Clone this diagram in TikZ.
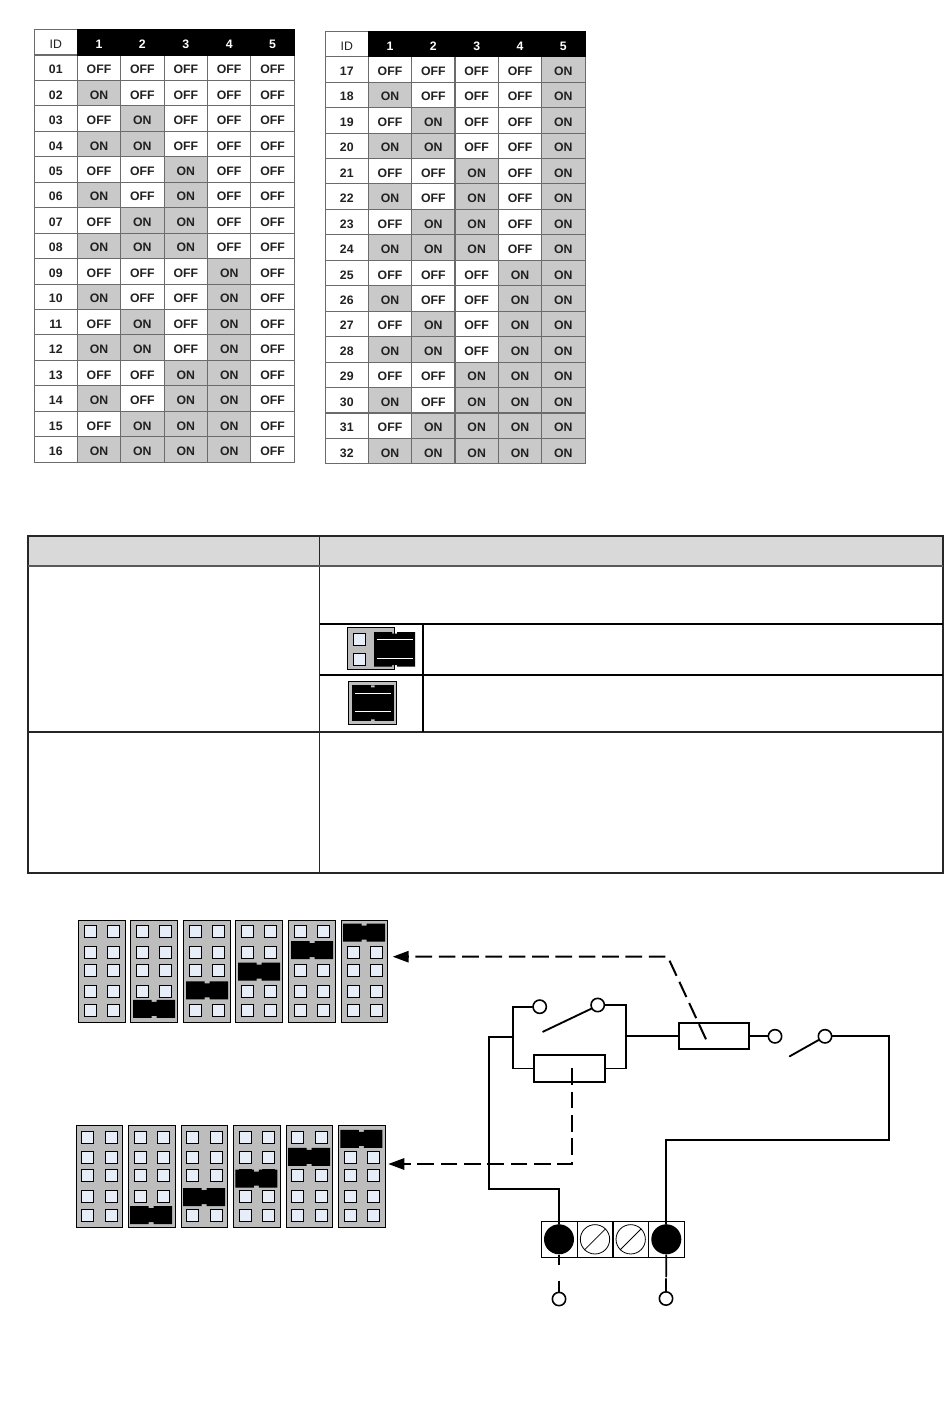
\documentclass[tikz,border=0pt]{standalone}
\usepackage{fontspec}
\setmainfont{Liberation Sans}
\usetikzlibrary{arrows.meta,calc}
\definecolor{gridc}{gray}{0.42}
\definecolor{onc}{gray}{0.79}
\definecolor{txt}{gray}{0.13}
\definecolor{blockc}{gray}{0.74}
\definecolor{padc}{HTML}{E8EEF7}
\definecolor{headc}{gray}{0.85}
\tikzset{
  cellbox/.style={draw=gridc,line width=0.8pt,inner sep=0pt,text height=9pt,text depth=0pt,minimum width=32.55pt,minimum height=19.09pt,font=\fontsize{9.2}{10}\selectfont\bfseries,text=txt},
  idbox/.style={cellbox,minimum width=32.2pt},
  headbox/.style={cellbox,fill=black,draw=black,text=white},
  block/.style={draw=black,line width=0.75pt,fill=blockc,inner sep=0pt},
  pad/.style={draw=black,line width=0.75pt,fill=padc,inner sep=0pt,minimum size=9pt},
  wire/.style={draw=black,line width=1.4pt,line cap=round,line join=miter},
  dashwire/.style={draw=black,line width=1.5pt,dash pattern=on 12.5pt off 5pt},
  tipped/.style={-{Triangle[length=12pt,width=8.5pt]}},
  res/.style={draw=black,line width=1.4pt,fill=none,inner sep=0pt},
  ring/.style={circle,draw=black,line width=1.2pt,fill=white,inner sep=0pt,minimum size=10pt},
  termcell/.style={draw=black,line width=0.5pt,inner sep=0pt,minimum height=27pt,minimum width=26.7pt},
  termon/.style={circle,fill=black,inner sep=0pt,minimum size=22.5pt},
  termoff/.style={circle,draw=black,line width=0.6pt,fill=white,inner sep=0pt,minimum size=22pt},
  frame/.style={draw=black!85,line width=1.3pt},
  heavy/.style={draw=black,line width=1.6pt},
}
\newcommand{\jumperat}[2]{%
  \fill[black] (#1-21,#2-9) -- (#1-2.5,#2-9) -- (#1-2.5,#2-7) -- (#1+2.5,#2-7) -- (#1+2.5,#2-9) -- (#1+21,#2-9)
    -- (#1+21,#2+9) -- (#1+2.5,#2+9) -- (#1+2.5,#2+7) -- (#1-2.5,#2+7) -- (#1-2.5,#2+9) -- (#1-21,#2+9) -- cycle;}
\newcommand{\idtable}[5]{% name, x0 (first column), y0 (first row top), first id, id-col width
  \foreach \r in {1,...,16}{
    \pgfmathtruncatemacro\id{#4+\r-1}
    \pgfmathsetmacro\yy{#3+25.45*(\r-0.5)}
    \node[idbox] (#1id\r) at (#2-21.5,\yy) {\ifnum\id<10 0\fi\id};
    \foreach \c in {1,...,5}{
      \pgfmathtruncatemacro\bit{mod(floor((\id-1)/2^(\c-1)),2)}
      \pgfmathsetmacro\xx{#2+#5*(\c-0.5)}
      \ifnum\bit=1
        \node[cellbox,fill=onc] (#1c\r-\c) at (\xx,\yy) {ON};
      \else
        \node[cellbox,fill=white] (#1c\r-\c) at (\xx,\yy) {OFF};
      \fi
    }
  }
  \node[idbox,font=\fontsize{9.2}{10}\selectfont] (#1head) at (#2-21.5,#3-12.7) {ID};
  \foreach \c in {1,...,5}{
    \pgfmathsetmacro\xx{#2+#5*(\c-0.5)}
    \node[headbox] (#1h\c) at (\xx,#3-12.7) {\c};
  }
}
\newcommand{\padblock}[6]{% left, top, width, padoffset1, padoffset2, row ys
  \pgfmathsetmacro\rgt{#1+#3}
  \path[block] (#1,#2) rectangle (\rgt,#2+102);
  \foreach \ry in #6{
    \node[pad] at (#1+#4,\ry) {};
    \node[pad] at (#1+#5,\ry) {};
  }
}
\begin{document}
\begin{tikzpicture}[x=0.75pt,y=-0.75pt]
\useasboundingbox (0,0) rectangle (950,1403);
\fill[white] (0,0) rectangle (950,1403);

% ID tables
\idtable{L}{77.3}{55}{1}{43.4}
\idtable{R}{368.3}{56.7}{17}{43.35}

% settings table
\fill[headc] (28,536.3) rectangle (943,566);
\draw[frame] (28,536.3) rectangle (943,872.7);
\draw[frame] (319.5,536.3) -- (319.5,872.7);
\draw[draw=black!65,line width=1.5pt] (28,566) -- (943,566);
\draw[heavy] (319.5,624) -- (943,624);
\draw[heavy] (319.5,674.8) -- (943,674.8);
\draw[frame] (28,731.7) -- (943,731.7);
\draw[heavy] (423,624) -- (423,731.7);

% small jumper icon 1
\path[block] (347.3,627.3) rectangle (394.7,669.3);
\node[pad] (ia) at (359.3,639.3) {};
\node[pad] (ib) at (359.3,659.3) {};
\fill[black] (374,632) -- (392,632) -- (392,633.5) -- (397,633.5) -- (397,632) -- (415,632)
  -- (415,666.7) -- (397,666.7) -- (397,665.2) -- (392,665.2) -- (392,666.7) -- (374,666.7) -- cycle;
\draw[white,line width=0.6pt] (376.7,639.3) -- (412.7,639.3) (376.7,658.3) -- (412.7,658.3);

% small jumper icon 2
\path[block] (348.3,681.3) rectangle (396.7,724.7);
\fill[black] (352,685.3) rectangle (394,721.3);
\fill[blockc] (371,685.3) rectangle (374.5,687.3) (371,719.3) rectangle (374.5,721.3);
\draw[white,line width=0.6pt] (354.7,693.3) -- (391,693.3) (354.7,711.3) -- (391,711.3);

% jumper blocks, top row
\def\toprows{{931.3,952.3,970.7,991.3,1010.3}}
\padblock{78.3}{920.3}{47.4}{12}{35.5}{{931.3,952.3,970.7,991.3,1010.3}}
\padblock{130.3}{920.3}{47.4}{12}{35.5}{{931.3,952.3,970.7,991.3,1010.3}}
\padblock{183.3}{920.3}{47.4}{12}{35.5}{{931.3,952.3,970.7,991.3,1010.3}}
\padblock{235.3}{920.3}{47.4}{12}{35.5}{{931.3,952.3,970.7,991.3,1010.3}}
\padblock{288.3}{920.3}{47.4}{12}{35.5}{{931.3,952.3,970.7,991.3,1010.3}}
\padblock{341.3}{920.3}{46.4}{11.7}{35.3}{{931.3,952.3,970.7,991.3,1010.3}}
\jumperat{154}{1008.8}
\jumperat{207}{990.3}
\jumperat{259}{971.7}
\jumperat{312}{950}
\jumperat{364}{932.7}

% jumper blocks, bottom row
\padblock{76.3}{1125.3}{46.4}{11.5}{35}{{1137,1157,1175.7,1196.3,1215.3}}
\padblock{128.3}{1125.3}{47.4}{12}{35.5}{{1137,1157,1175.7,1196.3,1215.3}}
\padblock{181.3}{1125.3}{46.4}{11.5}{35}{{1137,1157,1175.7,1196.3,1215.3}}
\padblock{233.3}{1125.3}{47.4}{12}{35.5}{{1137,1157,1175.7,1196.3,1215.3}}
\padblock{286.3}{1125.3}{46.4}{11.5}{35}{{1137,1157,1175.7,1196.3,1215.3}}
\padblock{338.3}{1125.3}{47.4}{12}{35.5}{{1137,1157,1175.7,1196.3,1215.3}}
\jumperat{151}{1215}
\jumperat{204}{1197.2}
\jumperat{256.3}{1178.5}
\jumperat{309}{1156.8}
\jumperat{361.3}{1138.8}

% circuit
\node[res,minimum width=52.5pt,minimum height=19.7pt] (R1) at (714,1036) {};
\node[res,minimum width=53.5pt,minimum height=20.2pt] (R2) at (569.3,1068.5) {};
\node[ring] (C1) at (775,1036.3) {};
\node[ring] (C2) at (825,1036.3) {};
\node[ring] (C3) at (539.7,1006.7) {};
\node[ring] (C4) at (597.7,1005) {};
\node[ring] (C5) at (559,1299) {};
\node[ring] (C6) at (666,1298.5) {};

% terminal block
\node[termcell] (B1) at (559.5,1239.3) {};
\node[termcell] (B2) at (595,1239.3) {};
\node[termcell] (B3) at (630.7,1239.3) {};
\node[termcell] (B4) at (666.5,1239.3) {};
\node[termon] (T1) at (559,1239.3) {};
\node[termoff] (T2) at (595,1239.3) {};
\node[termoff] (T3) at (630.7,1239.3) {};
\node[termon] (T4) at (666.3,1239.3) {};
\draw[black,line width=0.6pt] (T2.225) -- (T2.45) (T3.225) -- (T3.45);

\coordinate (SW1) at (789.7,1056.3);
\coordinate (SW2) at (543,1031.7);
\coordinate (JL) at (513.3,1037);
\coordinate (JLt) at (513.3,1006.7);
\coordinate (JLb) at (513.3,1068.5);
\coordinate (JR) at (625.7,1036);
\coordinate (JRt) at (625.7,1005);
\coordinate (JRb) at (625.7,1068.5);
\coordinate (WA) at (488.7,1037);
\coordinate (WB) at (488.7,1189.3);
\coordinate (WC) at (559,1189.3);
\coordinate (WD) at (889,1036.3);
\coordinate (WE) at (889,1140);
\coordinate (WF) at (666.3,1140);
\coordinate (DA1) at (706,1039.3);
\coordinate (DA2) at (667.7,956.7);
\coordinate (DA3) at (392.7,956.7);
\coordinate (DB1) at (571.7,1068.3);
\coordinate (DB2) at (571.7,1164);
\coordinate (DB3) at (388.3,1164);

\draw[wire] (R1.east |- C1) -- (C1.west);
\draw[wire] (C2.east) -- (WD) -- (WE) -- (WF) -- (T4.north);
\draw[wire] (SW1) -- (C2.210);
\draw[wire] (SW2) -- (C4.210);
\draw[wire] (C3.west) -- (JLt) -- (JLb) -- (JLb -| R2.west);
\draw[wire] (C4.east) -- (JRt) -- (JRb) -- (JRb -| R2.east);
\draw[wire] (JR) -- (JR -| R1.west);
\draw[wire] (JL) -- (WA) -- (WB) -- (WC) -- (T1.north);
\draw[dashwire,tipped] (DA1) -- (DA2) -- (DA3);
\draw[dashwire,tipped] (DB1) -- (DB2) -- (DB3);
\draw[black,line width=1.3pt,dash pattern=on 7.5pt off 12pt on 30pt] (T1.south) -- (C5.north);
\draw[black,line width=1.3pt,dash pattern=on 17pt off 0.8pt] (T4.south) -- (C6.north);
\end{tikzpicture}
\end{document}
